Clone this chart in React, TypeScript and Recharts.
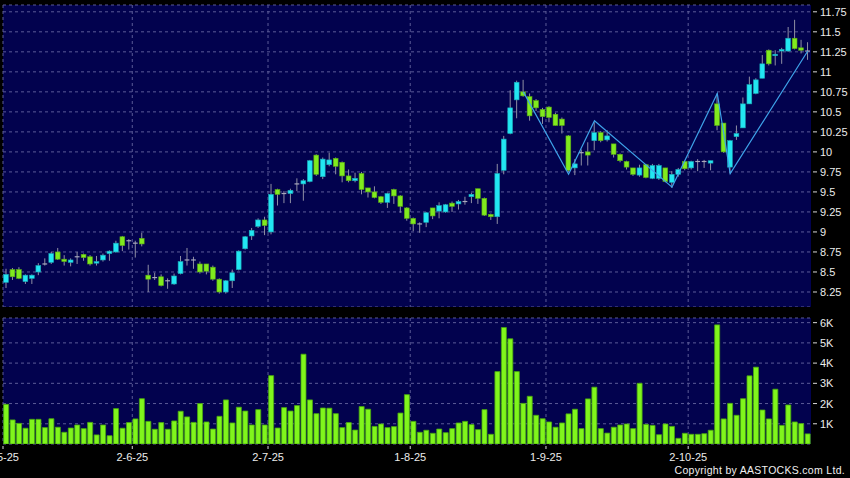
import React from "react";
import { ComposedChart, BarChart, Bar, Line, XAxis, YAxis, CartesianGrid } from "recharts";

// trading days per month (2025)
const monthDays: [number, number[]][] = [
  [5, [2, 6, 7, 8, 9, 12, 13, 14, 15, 16, 19, 20, 21, 22, 23, 26, 27, 28, 29, 30]],
  [6, [2, 3, 4, 5, 6, 9, 10, 11, 12, 13, 16, 17, 18, 19, 20, 23, 24, 25, 26, 27, 30]],
  [7, [2, 3, 4, 7, 8, 9, 10, 11, 14, 15, 16, 17, 18, 21, 22, 23, 24, 25, 28, 29, 30, 31]],
  [8, [1, 4, 5, 6, 7, 8, 11, 12, 13, 14, 15, 18, 19, 20, 21, 22, 25, 26, 27, 28, 29]],
  [9, [1, 2, 3, 4, 5, 8, 9, 10, 11, 12, 15, 16, 17, 18, 19, 22, 23, 24, 25, 26, 29, 30]],
  [10, [2, 3, 6, 8, 9, 10, 13, 14, 15, 16, 17, 20, 21, 22, 23, 24, 27, 28, 30]],
];

const opens = [
  8.37, 8.53, 8.53, 8.38, 8.42, 8.5, 8.6, 8.62, 8.75, 8.66,
  8.62, 8.69, 8.72, 8.69, 8.61, 8.65, 8.73, 8.75, 8.94, 8.89,
  8.86, 8.92, 8.46, 8.43, 8.44, 8.39, 8.35, 8.48, 8.65, 8.65,
  8.6, 8.6, 8.56, 8.41, 8.25, 8.39, 8.53, 8.79, 8.95, 9.07,
  9.15, 9.0, 9.53, 9.48, 9.48, 9.6, 9.6, 9.63, 9.96, 9.69,
  9.84, 9.92, 9.87, 9.7, 9.64, 9.73, 9.55, 9.5, 9.44, 9.37,
  9.53, 9.45, 9.3, 9.17, 9.1, 9.12, 9.3, 9.26, 9.25, 9.36,
  9.35, 9.38, 9.44, 9.54, 9.42, 9.22, 9.19, 9.77, 10.23, 10.65,
  10.75, 10.69, 10.64, 10.53, 10.56, 10.47, 10.41, 10.2, 9.8, 9.99,
  10.0, 10.14, 10.24, 10.15, 10.1, 9.97, 9.88, 9.8, 9.71, 9.84,
  9.67, 9.67, 9.8, 9.62, 9.72, 9.88, 9.8, 9.88, 9.88, 9.86,
  10.6, 10.36, 9.81, 10.19, 10.3, 10.6, 10.73, 10.92, 11.27, 11.21,
  11.26, 11.26, 11.42, 11.3, 11.26,
];
const highs = [
  8.54, 8.55, 8.56, 8.47, 8.47, 8.61, 8.67, 8.75, 8.8, 8.71,
  8.67, 8.75, 8.73, 8.71, 8.7, 8.73, 8.77, 8.89, 8.95, 8.91,
  8.89, 8.99, 8.59, 8.49, 8.47, 8.42, 8.48, 8.7, 8.8, 8.69,
  8.63, 8.6, 8.58, 8.42, 8.4, 8.53, 8.77, 8.95, 9.05, 9.17,
  9.19, 9.6, 9.54, 9.51, 9.54, 9.67, 9.66, 9.9, 9.97, 9.93,
  9.99, 9.93, 9.88, 9.78, 9.74, 9.75, 9.55, 9.57, 9.45, 9.49,
  9.54, 9.46, 9.31, 9.18, 9.12, 9.25, 9.3, 9.37, 9.35, 9.38,
  9.4, 9.44, 9.49, 9.54, 9.43, 9.23, 9.85, 10.2, 10.77, 10.89,
  10.9, 10.73, 10.66, 10.55, 10.57, 10.49, 10.43, 10.21, 9.91, 10.03,
  10.12, 10.37, 10.26, 10.27, 10.1, 9.98, 9.89, 9.8, 9.84, 9.85,
  9.85, 9.85, 9.8, 9.76, 9.8, 9.89, 9.89, 9.91, 9.9, 9.89,
  10.73, 10.36, 10.15, 10.33, 10.68, 10.94, 10.92, 11.21, 11.28, 11.27,
  11.3, 11.56, 11.65, 11.4, 11.37,
];
const lows = [
  8.3, 8.4, 8.41, 8.35, 8.35, 8.46, 8.58, 8.6, 8.65, 8.58,
  8.57, 8.6, 8.64, 8.58, 8.58, 8.63, 8.64, 8.74, 8.76, 8.78,
  8.68, 8.82, 8.25, 8.4, 8.32, 8.29, 8.34, 8.47, 8.58, 8.54,
  8.48, 8.47, 8.39, 8.23, 8.23, 8.3, 8.52, 8.78, 8.9, 9.05,
  8.96, 8.97, 9.33, 9.36, 9.36, 9.51, 9.39, 9.62, 9.7, 9.66,
  9.82, 9.72, 9.62, 9.62, 9.62, 9.47, 9.43, 9.42, 9.35, 9.3,
  9.35, 9.24, 9.14, 9.01, 8.99, 9.06, 9.16, 9.17, 9.24, 9.25,
  9.28, 9.34, 9.36, 9.35, 9.2, 9.15, 9.1, 9.72, 10.22, 10.42,
  10.69, 10.39, 10.51, 10.35, 10.37, 10.33, 10.23, 9.75, 9.71, 9.83,
  9.83, 10.02, 10.12, 10.13, 9.93, 9.87, 9.78, 9.7, 9.69, 9.67,
  9.66, 9.65, 9.62, 9.55, 9.69, 9.77, 9.78, 9.76, 9.8, 9.77,
  10.27, 9.99, 9.73, 10.15, 10.3, 10.6, 10.72, 10.92, 11.08, 11.08,
  11.1, 11.25, 11.28, 11.23, 11.15,
];
const closes = [
  8.47, 8.44, 8.42, 8.46, 8.46, 8.58, 8.6, 8.73, 8.66, 8.63,
  8.65, 8.69, 8.68, 8.6, 8.63, 8.71, 8.76, 8.86, 8.83, 8.89,
  8.86, 8.85, 8.41, 8.43, 8.33, 8.39, 8.45, 8.63, 8.65, 8.65,
  8.5, 8.51, 8.41, 8.25, 8.39, 8.49, 8.76, 8.94, 9.02, 9.15,
  9.08, 9.47, 9.47, 9.48, 9.52, 9.6, 9.64, 9.89, 9.72, 9.91,
  9.9, 9.82, 9.7, 9.64, 9.67, 9.53, 9.5, 9.43, 9.37, 9.48,
  9.45, 9.32, 9.17, 9.1, 9.1, 9.24, 9.2, 9.33, 9.34, 9.32,
  9.38, 9.38, 9.47, 9.42, 9.21, 9.19, 9.73, 10.16, 10.55, 10.87,
  10.7, 10.45, 10.55, 10.44, 10.43, 10.33, 10.33, 9.77, 9.85, 9.99,
  9.96, 10.24, 10.14, 10.2, 9.97, 9.89, 9.81, 9.72, 9.8, 9.68,
  9.83, 9.83, 9.63, 9.72, 9.78, 9.79, 9.88, 9.88, 9.88, 9.89,
  10.33, 10.0, 10.14, 10.23, 10.6, 10.84, 10.9, 11.1, 11.1, 11.22,
  11.28, 11.42, 11.29, 11.27, 11.26,
];
// volume in thousands
const volumes = [
  1.96, 1.19, 1.02, 0.78, 1.22, 1.22, 0.81, 1.25, 0.83, 0.58,
  0.79, 0.94, 0.76, 1.07, 0.45, 0.94, 0.41, 1.75, 0.78, 1.06,
  1.24, 2.24, 1.12, 0.73, 1.06, 0.73, 1.14, 1.62, 1.34, 1.07,
  2.0, 1.09, 0.74, 1.37, 2.18, 1.04, 1.82, 1.63, 0.94, 1.7,
  0.94, 3.38, 0.79, 1.8, 1.63, 1.9, 4.44, 2.18, 1.5, 1.78,
  1.77, 1.5, 0.81, 1.06, 0.69, 1.85, 1.72, 0.87, 0.99, 0.81,
  0.86, 1.53, 2.44, 1.12, 0.58, 0.68, 0.53, 0.74, 0.56, 0.76,
  1.04, 1.12, 0.96, 0.71, 1.7, 0.48, 3.58, 5.76, 5.2, 3.58,
  2.01, 2.36, 1.42, 1.25, 1.09, 0.83, 1.04, 1.49, 1.72, 0.76,
  2.23, 2.81, 0.76, 0.54, 0.83, 0.94, 0.99, 0.76, 3.0, 0.97,
  0.92, 0.46, 0.99, 0.87, 0.28, 0.53, 0.48, 0.48, 0.51, 0.68,
  5.89, 1.24, 2.01, 1.42, 2.24, 3.37, 3.8, 1.68, 1.24, 2.71,
  0.92, 1.93, 1.09, 1.01, 0.5,
];

// zigzag pivots (bar index, price)
const zigIdx = [80, 87, 91, 103, 110, 112, 124];
const zigVals = [10.75, 9.72, 10.39, 9.56, 10.73, 9.73, 11.26];

const xTicks = ["2-5-25", "2-6-25", "2-7-25", "1-8-25", "1-9-25", "2-10-25"];
const priceTicks = [8.25, 8.5, 8.75, 9, 9.25, 9.5, 9.75, 10, 10.25, 10.5, 10.75, 11, 11.25, 11.5, 11.75];
const volTicks = [1, 2, 3, 4, 5, 6];

const dates = monthDays.flatMap(([m, days]) => days.map((d) => `${d}-${m}-25`));

const rows = dates.map((date, i) => {
  const z = zigIdx.indexOf(i);
  return {
    date,
    open: opens[i],
    high: highs[i],
    low: lows[i],
    close: closes[i],
    vol: volumes[i],
    zig: z >= 0 ? zigVals[z] : null,
  };
});

const W = 850;
const LEFT = 3;
const AXIS_W = 39;
const PLOT_W = W - LEFT - AXIS_W;
const BAND = PLOT_W / rows.length;
const monthIdx = xTicks.map((t) => dates.indexOf(t));

const FONT = "'Liberation Sans', Arial, sans-serif";
const BG = "#02024e";
const GRID = "#5c5c98";
const UP = "#22e6f2";
const DOWN = "#80ea1e";
const WICK = "#9090a4";

const monthLines = ({ offset }: any) =>
  monthIdx.map((i) => offset.left + (i * offset.width) / rows.length);

function Candle(props: any) {
  const { x, y, width, height, payload } = props;
  if (!payload) return null;
  const { open, close, high, low } = payload;
  const ppu = high > low ? height / (high - low) : 0;
  const py = (v: number) => y + (high - v) * ppu;
  const cx = x + width / 2;
  const bw = Math.max(3, width * 0.8);
  const top = py(Math.max(open, close));
  const bot = py(Math.min(open, close));
  const doji = open === close;
  const col = close > open ? UP : DOWN;
  return (
    <g>
      <line x1={cx} x2={cx} y1={y} y2={y + height} stroke={WICK} strokeWidth={1} />
      {doji ? (
        <line x1={cx - bw / 2} x2={cx + bw / 2} y1={top} y2={top} stroke="#a8a8bc" strokeWidth={1.2} />
      ) : (
        <rect x={cx - bw / 2} y={top} width={bw} height={Math.max(1.5, bot - top)} fill={col} stroke={close > open ? "#1aa6b4" : "#58a814"} strokeWidth={0.6} />
      )}
    </g>
  );
}

function PriceTick(p: any) {
  return (
    <g>
      <line x1={p.x + 2} x2={p.x + 6} y1={p.y} y2={p.y} stroke="#d8d8d8" />
      <text x={p.x + 9} y={p.y} dy={4} fill="#ececec" fontSize={11} fontFamily={FONT}>
        {p.payload.value}
      </text>
    </g>
  );
}

function VolTick(p: any) {
  return (
    <g>
      <line x1={p.x + 2} x2={p.x + 6} y1={p.y} y2={p.y} stroke="#d8d8d8" />
      <text x={p.x + 9} y={p.y} dy={4} fill="#ececec" fontSize={11} fontFamily={FONT}>
        {p.payload.value + "K"}
      </text>
    </g>
  );
}

function DateTick(p: any) {
  const x = p.x - BAND / 2;
  return (
    <g>
      <line x1={x} x2={x} y1={p.y + 2} y2={p.y + 5} stroke="#d8d8d8" />
      <text x={x} y={p.y + 17} textAnchor="middle" fill="#ececec" fontSize={11} fontFamily={FONT}>
        {p.payload.value}
      </text>
    </g>
  );
}

export default function App() {
  return (
    <div style={{ position: "fixed", left: 0, top: 0, width: W, height: 478, background: "#000", overflow: "hidden" }}>
      {/* price panel */}
      <div style={{ position: "absolute", left: 0, top: 0 }}>
        <ComposedChart width={W} height={307} data={rows} margin={{ top: 5, right: 0, left: LEFT, bottom: 0 }} barCategoryGap={0}>
          <CartesianGrid fill={BG} stroke={GRID} strokeDasharray="3 3" verticalCoordinatesGenerator={monthLines} />
          <XAxis dataKey="date" hide />
          <YAxis
            orientation="right"
            width={AXIS_W}
            domain={[8.0625, 11.835]}
            ticks={priceTicks}
            interval={0}
            allowDataOverflow
            axisLine={false}
            tickLine={false}
            tickSize={0}
            tickMargin={0}
            tick={<PriceTick />}
          />
          <Bar dataKey={(d: any) => [d.low, d.high]} shape={(p: any) => <Candle {...p} />} isAnimationActive={false} />
          <Line dataKey="zig" connectNulls dot={false} activeDot={false} stroke="#3ea2e8" strokeWidth={1.2} isAnimationActive={false} />
        </ComposedChart>
      </div>

      {/* volume panel */}
      <div style={{ position: "absolute", left: 0, top: 307 }}>
        <BarChart width={W} height={171} data={rows} margin={{ top: 11, right: 0, left: LEFT, bottom: 0 }} barCategoryGap="10%">
          <CartesianGrid fill={BG} stroke={GRID} strokeDasharray="3 3" verticalCoordinatesGenerator={monthLines} />
          <XAxis
            dataKey="date"
            ticks={xTicks}
            interval={0}
            height={34}
            axisLine={false}
            tickLine={false}
            tickSize={0}
            tickMargin={0}
            tick={<DateTick />}
          />
          <YAxis
            orientation="right"
            width={AXIS_W}
            domain={[0, 6.23]}
            ticks={volTicks}
            interval={0}
            allowDataOverflow
            axisLine={false}
            tickLine={false}
            tickSize={0}
            tickMargin={0}
            tick={<VolTick />}
          />
          <Bar dataKey="vol" fill="#80f51c" stroke="#47a80e" strokeWidth={0.8} isAnimationActive={false} />
        </BarChart>
      </div>

      <div
        style={{
          position: "absolute",
          right: 5,
          top: 464,
          color: "#f0f0f0",
          fontFamily: FONT,
          fontSize: 10.5,
          letterSpacing: 0.3,
          whiteSpace: "nowrap",
        }}
      >
        Copyright by AASTOCKS.com Ltd.
      </div>
    </div>
  );
}
